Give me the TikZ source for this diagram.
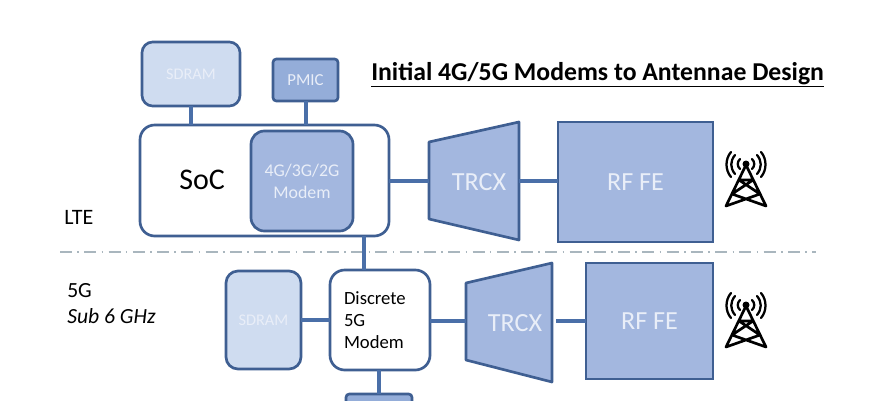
\documentclass[tikz,border=0pt]{standalone}
\usepackage{fontspec}
\setmainfont{Carlito}
\usetikzlibrary{calc}
\definecolor{edgeblue}{HTML}{3F5F92}
\definecolor{linkblue}{HTML}{4A6FA8}
\definecolor{fillmid}{HTML}{A3B7DF}
\definecolor{filllight}{HTML}{CFDCF0}
\definecolor{fillpmic}{HTML}{94ADD9}
\definecolor{txtlight}{HTML}{E9EEF8}
\definecolor{divgrey}{HTML}{A9B6BE}
\tikzset{
  px/.style={x=0.75pt,y=-0.75pt},
  sz/.style 2 args={minimum width=#1*0.75pt,minimum height=#2*0.75pt},
  blk/.style={draw=edgeblue,line width=2pt,inner sep=0pt,outer sep=0pt,anchor=north west,align=center},
  ram/.style={blk,fill=filllight,rounded corners=8pt,text=txtlight,font=\fontsize{12.2}{14}\selectfont},
  pm/.style={blk,fill=fillpmic,rounded corners=2.5pt,text=txtlight,font=\fontsize{12.6}{14}\selectfont},
  modemblk/.style={blk,fill=fillmid,rounded corners=10pt,text=txtlight,font=\fontsize{13.4}{16.5}\selectfont},
  whiteblk/.style={blk,fill=white,rounded corners=11pt},
  rf/.style={blk,fill=fillmid,rounded corners=0pt,text=txtlight,font=\fontsize{19.6}{22}\selectfont},
  trap/.style={draw=edgeblue,line width=2pt,fill=fillmid,line join=round},
  trlabel/.style={text=txtlight,font=\fontsize{19.6}{22}\selectfont,inner sep=0pt},
  link/.style={draw=linkblue,line width=3pt},
  lbl/.style={text=black,inner sep=0pt,anchor=west},
  towerline/.style={draw=black,line width=2pt,line cap=round,line join=round},
  wave/.style={draw=black,line width=1.7pt,line cap=round},
}
\newcommand{\towerat}[2]{%
  \begin{scope}[shift={(#1,#2)}]
    \draw[towerline] (0,-15) -- (-20,26) -- (14,14) -- (-7,0) -- (7,0) -- (-14,14) -- (20,26) -- cycle;
    \fill (0,-16) circle[radius=3.5];
    \draw[wave] (-6,-21) .. controls (-9,-18) and (-9,-14) .. (-6,-11);
    \draw[wave] (6,-21) .. controls (9,-18) and (9,-14) .. (6,-11);
    \draw[wave] (-11,-25) .. controls (-16,-19) and (-16,-12) .. (-11,-6);
    \draw[wave] (11,-25) .. controls (16,-19) and (16,-12) .. (11,-6);
    \draw[wave] (-15,-28) .. controls (-21,-21) and (-21,-10) .. (-15,-3);
    \draw[wave] (15,-28) .. controls (21,-21) and (21,-10) .. (15,-3);
  \end{scope}}
\begin{document}
\begin{tikzpicture}[px]
\useasboundingbox (0,0) rectangle (882,400);
\clip (0,0) rectangle (882,400);
\fill[white] (0,0) rectangle (882,400);
% divider
\coordinate (divL) at (60,252);
\coordinate (divR) at (816,252);
\draw[draw=divgrey,line width=1pt,dash pattern=on 9pt off 4pt on 1.2pt off 4pt] (divL) -- (divR);
% title
\node[lbl,font=\bfseries\fontsize{19.3}{23}\selectfont] (title) at (371,75) {\underline{Initial 4G/5G Modems to Antennae Design}};
% upper blocks
\node[ram,sz={98}{64}] (sdramA) at (142,42) {SDRAM};
\node[pm,sz={65}{42}] (pmicA) at (273,59) {PMIC};
\node[whiteblk,sz={249}{111}] (soc) at (140,125) {};
\node[lbl,font=\fontsize{22.5}{26}\selectfont] (soclabel) at (179,180) {SoC};
\node[modemblk,sz={102}{100}] (modemA) at (251,131) {4G/3G/2G\\Modem};
\path[trap] (429,142) -- (519,122) -- (519,240) -- (429,219) -- cycle;
\coordinate (trA) at (429,181);
\coordinate (trAr) at (519,181);
\node[trlabel] (trAlabel) at (479,182) {TRCX};
\node[rf,sz={155}{120}] (rfA) at (558,122) {RF FE};
\node[lbl,font=\fontsize{16.5}{19}\selectfont] (lte) at (64,217) {LTE};
% lower blocks
\node[ram,rounded corners=9pt,sz={75}{98}] (sdramB) at (226,271) {SDRAM};
\node[whiteblk,sz={100}{100},font=\fontsize{14}{16.5}\selectfont,align=left,text width=54pt] (disc) at (330,270) {Discrete\\5G\\Modem};
\path[trap] (466,283) -- (552,263) -- (552,382) -- (466,360) -- cycle;
\coordinate (trB) at (466,321);
\coordinate (trBr) at (552,321);
\node[trlabel] (trBlabel) at (515,323) {TRCX};
\node[rf,sz={127}{116}] (rfB) at (586,263) {RF FE};
\node[pm,sz={66}{40}] (pmicB) at (346,394) {};
\node[lbl,font=\fontsize{16.2}{19}\selectfont] (fiveg) at (67,291) {5G};
\node[lbl,font=\itshape\fontsize{16.2}{19}\selectfont] (sub) at (67,316) {Sub 6 GHz};
% connectors
\draw[link] (sdramA.south -| 191,0) -- (soc.north -| 191,0);
\draw[link] (pmicA.south) -- (soc.north -| pmicA.south);
\draw[link] (soc.east |- trA) -- (trA);
\draw[link] (trAr) -- (rfA.west |- trAr);
\draw[link] (soc.south -| 364,0) -- (disc.north -| 364,0);
\draw[link] (sdramB.east |- disc.west) -- (disc.west);
\draw[link] (disc.east |- trB) -- (trB);
\draw[link] (556,321) -- (rfB.west |- trBr);
\draw[link] (disc.south -| 379,0) -- (pmicB.north -| 379,0);
% antennae
\towerat{746}{180}
\towerat{746}{321}
\end{tikzpicture}
\end{document}
